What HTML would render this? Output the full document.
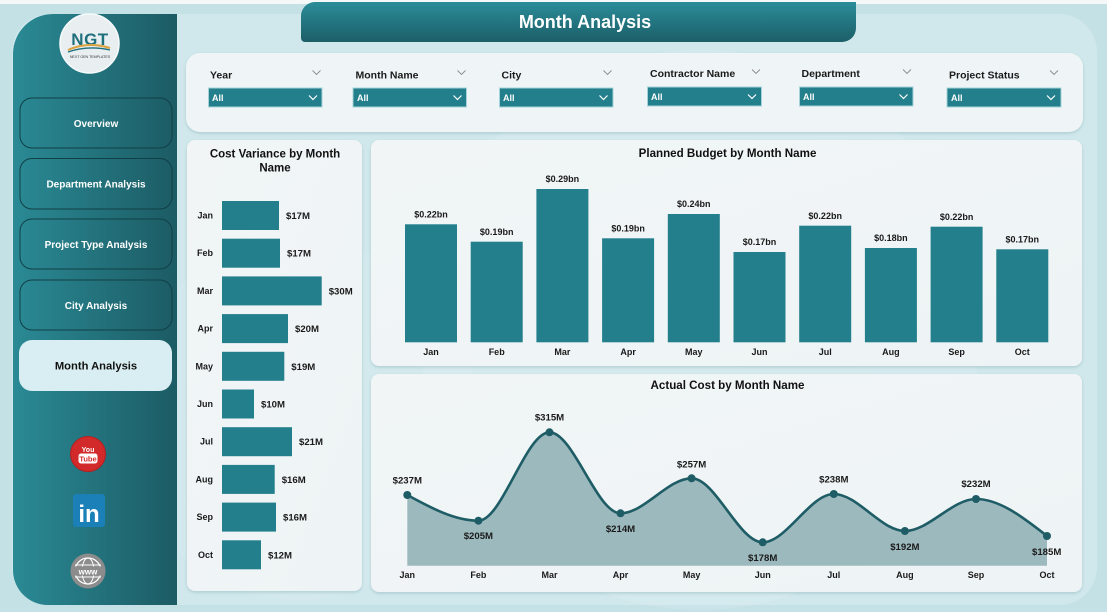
<!DOCTYPE html>
<html><head><meta charset="utf-8"><style>
html,body{margin:0;padding:0;background:#c4e1e6;}
svg{display:block;}
text{font-family:"Liberation Sans",Arial,sans-serif;}
</style></head><body>
<svg width="1107" height="612" viewBox="0 0 1107 612" xmlns="http://www.w3.org/2000/svg">
<defs>
<linearGradient id="side" x1="0" y1="0" x2="1" y2="0">
<stop offset="0" stop-color="#2a8a95"/><stop offset="1" stop-color="#1c5b64"/>
</linearGradient>
<linearGradient id="hdr" x1="0" y1="0" x2="0" y2="1">
<stop offset="0" stop-color="#2a8d99"/><stop offset="1" stop-color="#1c5e68"/>
</linearGradient>
<linearGradient id="cardg" x1="0" y1="0" x2="1" y2="1">
<stop offset="0" stop-color="#f1f5f6"/><stop offset="1" stop-color="#eef4f5"/>
</linearGradient>
<filter id="sh" x="-5%" y="-5%" width="110%" height="115%">
<feDropShadow dx="0" dy="1.5" stdDeviation="1.5" flood-color="#6f9aa2" flood-opacity="0.35"/>
</filter>
</defs>

<!-- background -->
<rect x="0" y="0" width="1107" height="612" fill="#c4e1e6"/>
<rect x="0" y="0" width="1107" height="4" fill="#f4f8f9"/>
<rect x="12" y="14" width="1085" height="591" rx="38" fill="#d0e8ec"/>
<circle cx="700" cy="330" r="280" fill="#ffffff" opacity="0.12"/>
<circle cx="300" cy="420" r="180" fill="#ffffff" opacity="0.08"/>

<!-- sidebar -->
<path d="M53,14 H177 V605 H48 A35,35 0 0 1 13,570 V54 A40,40 0 0 1 53,14 Z" fill="url(#side)"/>

<!-- logo -->
<circle cx="89.5" cy="43.5" r="29.5" fill="#e9eff1" stroke="#f7fafb" stroke-width="1.5"/>
<text x="90" y="45" text-anchor="middle" font-size="17" font-weight="bold" fill="#1f6f7c" letter-spacing="0.5">NGT</text>
<path d="M68,50 Q88,41 110,48" stroke="#d9a441" stroke-width="2" fill="none"/>
<path d="M68,52 Q88,45 110,50" stroke="#1f6f7c" stroke-width="1.3" fill="none"/>
<text x="90" y="58" text-anchor="middle" font-size="3.6" fill="#333">NEXT GEN TEMPLATES</text>

<!-- nav buttons -->
<g font-size="10" font-weight="bold" fill="#ffffff" text-anchor="middle">
<rect x="20" y="98" width="152" height="50" rx="12" fill="none" stroke="#113f46" stroke-width="1"/>
<text x="96" y="127">Overview</text>
<rect x="20" y="158.5" width="152" height="50.5" rx="12" fill="none" stroke="#113f46" stroke-width="1"/>
<text x="96" y="187.5">Department Analysis</text>
<rect x="20" y="219" width="152" height="50" rx="12" fill="none" stroke="#113f46" stroke-width="1"/>
<text x="96" y="248">Project Type Analysis</text>
<rect x="20" y="280" width="152" height="50" rx="12" fill="none" stroke="#113f46" stroke-width="1"/>
<text x="96" y="309">City Analysis</text>
</g>
<rect x="19" y="340" width="153" height="51" rx="13" fill="#d9eef2"/>
<text x="96" y="369.5" text-anchor="middle" font-size="11.2" font-weight="bold" fill="#111">Month Analysis</text>

<!-- social icons -->
<circle cx="88" cy="454" r="17.5" fill="#d22a2a"/>
<circle cx="88" cy="454" r="17.5" fill="none" stroke="#b51f1f" stroke-width="1"/>
<text x="88" y="452" text-anchor="middle" font-size="7" font-weight="bold" fill="#fff">You</text>
<rect x="78.5" y="453.5" width="19" height="10" rx="2.5" fill="#fff"/>
<text x="88" y="461.5" text-anchor="middle" font-size="7.5" font-weight="bold" fill="#d22a2a">Tube</text>
<rect x="73" y="494" width="32" height="33" rx="3" fill="#1b7fb8"/>
<text x="89" y="522" text-anchor="middle" font-size="24" font-weight="bold" fill="#fff">in</text>
<circle cx="88" cy="571" r="17.5" fill="#8c8c8c"/>
<circle cx="88" cy="571" r="13" fill="none" stroke="#fff" stroke-width="1.2"/>
<ellipse cx="88" cy="571" rx="6" ry="13" fill="none" stroke="#fff" stroke-width="1"/>
<line x1="75" y1="565" x2="101" y2="565" stroke="#fff" stroke-width="1"/>
<line x1="75" y1="577" x2="101" y2="577" stroke="#fff" stroke-width="1"/>
<rect x="74" y="566.5" width="28" height="9" fill="#8c8c8c"/>
<text x="88" y="574.5" text-anchor="middle" font-size="8" font-weight="bold" fill="#fff">www</text>

<!-- header tab -->
<path d="M315,2 H856 V28 A14,14 0 0 1 842,42 H305 A4,4 0 0 1 301,38 V16 A14,14 0 0 1 315,2 Z" fill="url(#hdr)"/>
<text x="585" y="28" text-anchor="middle" font-size="18" font-weight="bold" fill="#ffffff">Month Analysis</text>

<!-- filter card -->
<rect x="186" y="53" width="897" height="79" rx="14" fill="#eff5f6" filter="url(#sh)"/>
<g font-size="10.5" font-weight="bold" fill="#1a1a1a">
<text x="210" y="78.5">Year</text>
<text x="355.5" y="78.5">Month Name</text>
<text x="501.5" y="78.5">City</text>
<text x="650" y="77">Contractor Name</text>
<text x="801.5" y="77">Department</text>
<text x="949" y="78.5">Project Status</text>
</g>
<g fill="none" stroke="#8a8a8a" stroke-width="0.9">
<polyline points="312.5,70.5 316.5,74.5 320.5,70.5"/>
<polyline points="457.5,70.5 461.5,74.5 465.5,70.5"/>
<polyline points="603.5,70.5 607.5,74.5 611.5,70.5"/>
<polyline points="752,69.5 756,73.5 760,69.5"/>
<polyline points="903,69.5 907,73.5 911,69.5"/>
<polyline points="1050,70.5 1054,74.5 1058,70.5"/>
</g>
<g fill="#237f8c" stroke="#a6d3d9" stroke-width="1">
<rect x="208.5" y="88" width="113.5" height="19"/>
<rect x="353" y="88" width="113.5" height="19"/>
<rect x="499.5" y="88" width="113.5" height="19"/>
<rect x="647.5" y="87" width="114" height="19"/>
<rect x="799.5" y="87" width="113.5" height="19"/>
<rect x="947" y="88" width="114" height="19"/>
</g>
<g font-size="9" font-weight="bold" fill="#ffffff">
<text x="212" y="101">All</text>
<text x="357" y="101">All</text>
<text x="503" y="101">All</text>
<text x="651" y="100">All</text>
<text x="803" y="100">All</text>
<text x="951" y="101">All</text>
</g>
<g fill="none" stroke="#ffffff" stroke-width="1.2">
<polyline points="309,95.5 313,99.5 317,95.5"/>
<polyline points="453.5,95.5 457.5,99.5 461.5,95.5"/>
<polyline points="599.5,95.5 603.5,99.5 607.5,95.5"/>
<polyline points="748,94.5 752,98.5 756,94.5"/>
<polyline points="899.5,94.5 903.5,98.5 907.5,94.5"/>
<polyline points="1047,95.5 1051,99.5 1055,95.5"/>
</g>

<!-- cost variance card -->
<rect x="187" y="140" width="175" height="451" rx="8" fill="url(#cardg)" filter="url(#sh)"/>
<g font-size="11.5" font-weight="bold" fill="#111" text-anchor="middle">
<text x="275" y="157.5">Cost Variance by Month</text>
<text x="275" y="171.5">Name</text>
</g>
<g fill="#237f8c">
<rect x="222" y="201" width="57" height="29"/>
<rect x="222" y="238.7" width="58" height="29"/>
<rect x="222" y="276.4" width="99.7" height="29"/>
<rect x="222" y="314.1" width="66" height="29"/>
<rect x="222" y="351.8" width="62.3" height="29"/>
<rect x="222" y="389.5" width="32" height="29"/>
<rect x="222" y="427.2" width="70" height="29"/>
<rect x="222" y="464.9" width="52.7" height="29"/>
<rect x="222" y="502.6" width="54" height="29"/>
<rect x="222" y="540.3" width="39" height="29"/>
</g>
<g font-size="9" font-weight="bold" fill="#1a1a1a" text-anchor="end">
<text x="213" y="218.5">Jan</text>
<text x="213" y="256.2">Feb</text>
<text x="213" y="293.9">Mar</text>
<text x="213" y="331.6">Apr</text>
<text x="213" y="369.3">May</text>
<text x="213" y="407">Jun</text>
<text x="213" y="444.7">Jul</text>
<text x="213" y="482.4">Aug</text>
<text x="213" y="520.1">Sep</text>
<text x="213" y="557.8">Oct</text>
</g>
<g font-size="9.6" font-weight="bold" fill="#1a1a1a">
<text x="286" y="219">$17M</text>
<text x="287" y="256.7">$17M</text>
<text x="328.7" y="294.4">$30M</text>
<text x="295" y="332.1">$20M</text>
<text x="291.3" y="369.8">$19M</text>
<text x="261" y="407.5">$10M</text>
<text x="299" y="445.2">$21M</text>
<text x="281.7" y="482.9">$16M</text>
<text x="283" y="520.6">$16M</text>
<text x="268" y="558.3">$12M</text>
</g>

<!-- planned budget card -->
<rect x="371" y="140" width="711" height="226" rx="8" fill="url(#cardg)" filter="url(#sh)"/>
<text x="727.5" y="157" text-anchor="middle" font-size="11.6" font-weight="bold" fill="#111">Planned Budget by Month Name</text>
<g fill="#237f8c">
<rect x="405" y="224.3" width="52" height="118"/>
<rect x="470.7" y="241.7" width="52" height="100.6"/>
<rect x="536.4" y="189" width="52" height="153.3"/>
<rect x="602.1" y="238.3" width="52" height="104"/>
<rect x="667.8" y="214" width="52" height="128.3"/>
<rect x="733.5" y="252" width="52" height="90.3"/>
<rect x="799.2" y="225.7" width="52" height="116.6"/>
<rect x="864.9" y="248" width="52" height="94.3"/>
<rect x="930.6" y="226.7" width="52" height="115.6"/>
<rect x="996.3" y="249.3" width="52" height="93"/>
</g>
<g font-size="9" font-weight="bold" fill="#1a1a1a" text-anchor="middle">
<text x="431" y="217.5">$0.22bn</text>
<text x="496.7" y="234.9">$0.19bn</text>
<text x="562.4" y="182.2">$0.29bn</text>
<text x="628.1" y="231.5">$0.19bn</text>
<text x="693.8" y="207.2">$0.24bn</text>
<text x="759.5" y="245.2">$0.17bn</text>
<text x="825.2" y="218.9">$0.22bn</text>
<text x="890.9" y="241.2">$0.18bn</text>
<text x="956.6" y="219.9">$0.22bn</text>
<text x="1022.3" y="242.5">$0.17bn</text>
</g>
<g font-size="9" font-weight="bold" fill="#1a1a1a" text-anchor="middle">
<text x="431" y="355">Jan</text>
<text x="496.7" y="355">Feb</text>
<text x="562.4" y="355">Mar</text>
<text x="628.1" y="355">Apr</text>
<text x="693.8" y="355">May</text>
<text x="759.5" y="355">Jun</text>
<text x="825.2" y="355">Jul</text>
<text x="890.9" y="355">Aug</text>
<text x="956.6" y="355">Sep</text>
<text x="1022.3" y="355">Oct</text>
</g>

<!-- actual cost card -->
<rect x="371" y="374" width="711" height="218" rx="8" fill="url(#cardg)" filter="url(#sh)"/>
<text x="727.5" y="389" text-anchor="middle" font-size="11.6" font-weight="bold" fill="#111">Actual Cost by Month Name</text>
<path d="M407.3,495 C431,507.9 454.7,520.7 478.4,520.7 C502.1,520.7 525.8,432.3 549.5,432.3 C573.2,432.3 596.8,513.3 620.5,513.3 C644.2,513.3 667.9,478.3 691.6,478.3 C715.3,478.3 739,542.3 762.7,542.3 C786.4,542.3 810.1,494 833.8,494 C857.5,494 881.2,531 904.9,531 C928.6,531 952.3,499 976,499 C999.7,499 1023.3,517.5 1047,536 L1047,565.7 L407.3,565.7 Z" fill="#9cb9bd"/>
<path d="M407.3,495 C431,507.9 454.7,520.7 478.4,520.7 C502.1,520.7 525.8,432.3 549.5,432.3 C573.2,432.3 596.8,513.3 620.5,513.3 C644.2,513.3 667.9,478.3 691.6,478.3 C715.3,478.3 739,542.3 762.7,542.3 C786.4,542.3 810.1,494 833.8,494 C857.5,494 881.2,531 904.9,531 C928.6,531 952.3,499 976,499 C999.7,499 1023.3,517.5 1047,536" fill="none" stroke="#1e5c66" stroke-width="2.6"/>
<g fill="#1e5c66">
<circle cx="407.3" cy="495" r="4"/>
<circle cx="478.4" cy="520.7" r="4"/>
<circle cx="549.5" cy="432.3" r="4"/>
<circle cx="620.5" cy="513.3" r="4"/>
<circle cx="691.6" cy="478.3" r="4"/>
<circle cx="762.7" cy="542.3" r="4"/>
<circle cx="833.8" cy="494" r="4"/>
<circle cx="904.9" cy="531" r="4"/>
<circle cx="976" cy="499" r="4"/>
<circle cx="1047" cy="536" r="4"/>
</g>
<g font-size="9.6" font-weight="bold" fill="#1a1a1a" text-anchor="middle">
<text x="407.3" y="483.5">$237M</text>
<text x="478.4" y="539.2">$205M</text>
<text x="549.5" y="420.5">$315M</text>
<text x="620.5" y="532.2">$214M</text>
<text x="691.6" y="467.5">$257M</text>
<text x="762.7" y="561.2">$178M</text>
<text x="833.8" y="482.5">$238M</text>
<text x="904.9" y="550.2">$192M</text>
<text x="976" y="486.8">$232M</text>
<text x="1046.7" y="555.2">$185M</text>
</g>
<g font-size="9" font-weight="bold" fill="#1a1a1a" text-anchor="middle">
<text x="407.3" y="578">Jan</text>
<text x="478.4" y="578">Feb</text>
<text x="549.5" y="578">Mar</text>
<text x="620.5" y="578">Apr</text>
<text x="691.6" y="578">May</text>
<text x="762.7" y="578">Jun</text>
<text x="833.8" y="578">Jul</text>
<text x="904.9" y="578">Aug</text>
<text x="976" y="578">Sep</text>
<text x="1047" y="578">Oct</text>
</g>
</svg>
</body></html>
